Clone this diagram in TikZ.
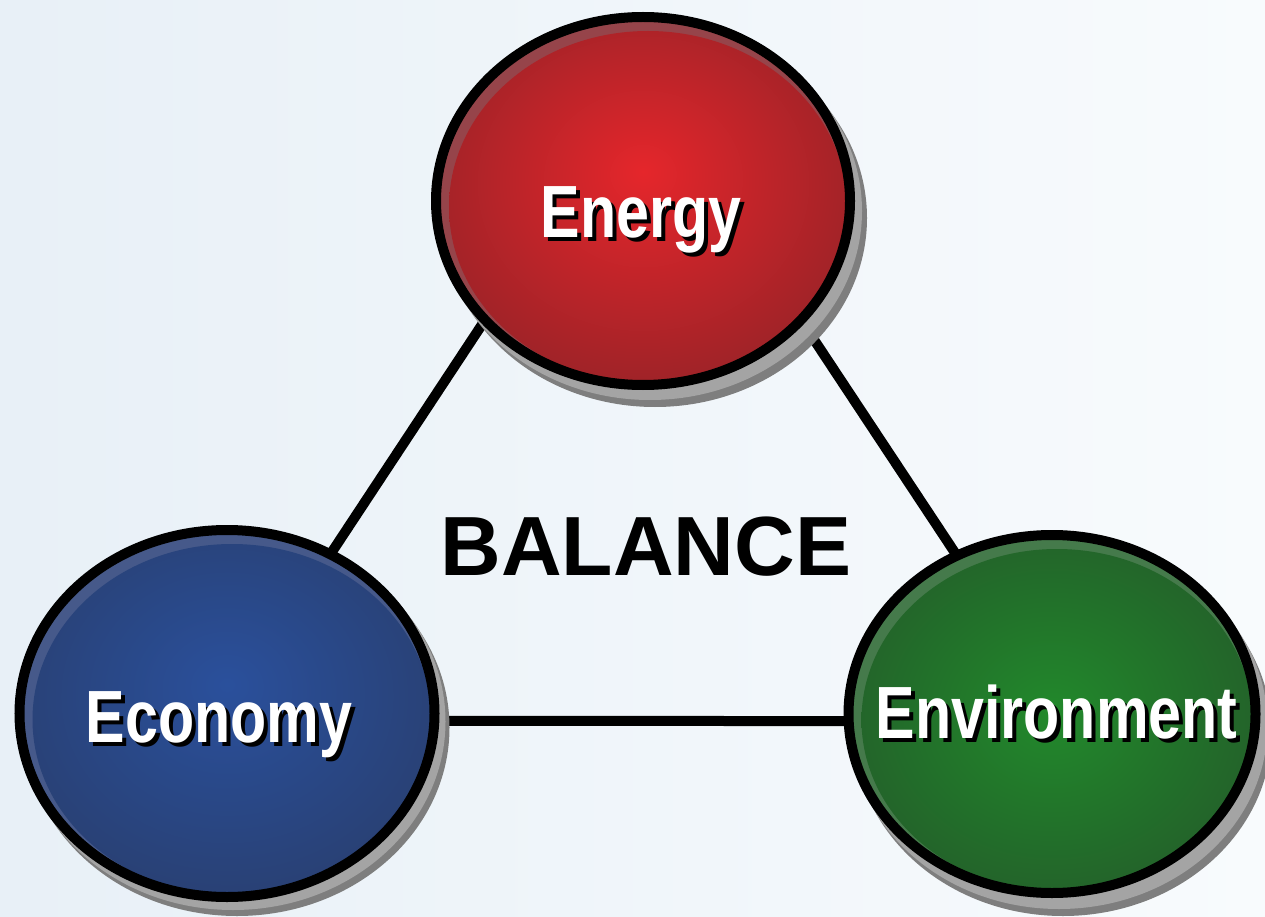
\documentclass[tikz,border=0pt]{standalone}
\usepackage{fontspec}
\setmainfont{Liberation Sans}
\newfontfamily\narrowfont[FakeStretch=0.8]{Liberation Sans}
\usetikzlibrary{shapes.geometric}

\definecolor{bgL}{HTML}{E8F0F7}
\definecolor{bgR}{HTML}{F8FBFD}
\definecolor{redC}{HTML}{E5262B}
\definecolor{redE}{HTML}{7C2126}
\definecolor{redRim}{HTML}{96444A}
\definecolor{blueC}{HTML}{2A509C}
\definecolor{blueE}{HTML}{283961}
\definecolor{blueRim}{HTML}{46598A}
\definecolor{greenC}{HTML}{22892B}
\definecolor{greenE}{HTML}{234D29}
\definecolor{greenRim}{HTML}{457A4B}
\definecolor{shDark}{HTML}{7E7E7E}
\definecolor{shLight}{HTML}{A4A4A4}

\pgfdeclareradialshading{redball}{\pgfpoint{0bp}{4bp}}{color(0bp)=(redC); color(40bp)=(redE); color(50bp)=(redE)}
\pgfdeclareradialshading{blueball}{\pgfpoint{0bp}{4bp}}{color(0bp)=(blueC); color(40bp)=(blueE); color(50bp)=(blueE)}
\pgfdeclareradialshading{greenball}{\pgfpoint{0bp}{0bp}}{color(0bp)=(greenC); color(40bp)=(greenE); color(50bp)=(greenE)}

\pgfdeclarelayer{bglayer}
\pgfdeclarelayer{linelayer}
\pgfdeclarelayer{shadowlayer}
\pgfsetlayers{bglayer,linelayer,shadowlayer,main}

\newcommand{\shtext}[1]{\makebox[0pt][l]{\kern4pt\raisebox{-4pt}{\color{black}#1}}#1}

\tikzset{
  ball/.style n args={4}{ellipse, inner sep=0pt, minimum width=#1, minimum height=#2,
    draw=none, fill=#3,
    path picture={\shade[shading=#4]
      ([shift={(5pt,-6pt)}]path picture bounding box.center)
      ellipse [x radius=0.5*#1-8pt, y radius=0.5*#2-8pt];},
    postaction={draw=black, line width=10pt}},
  conn/.style={draw=black, line width=10pt, shorten <=-14pt, shorten >=-14pt},
  lbl/.style={font=\narrowfont\bfseries\fontsize{74}{74}\selectfont, text=white, anchor=base, inner sep=0pt},
  title/.style={font=\bfseries\fontsize{84}{84}\selectfont, text=black, anchor=base, inner sep=0pt},
}

\begin{document}
\begin{tikzpicture}[x=1pt, y=-1pt]
\useasboundingbox (0,0) rectangle (1265,917);
\begin{pgfonlayer}{bglayer}
  \shade[left color=bgL, right color=bgR] (0,0) rectangle (1265,917);
\end{pgfonlayer}

% balls
\node[ball={414pt}{368pt}{redRim}{redball}] (energy) at (643,201) {};
\node[ball={415pt}{367pt}{blueRim}{blueball}] (economy) at (227,713.5) {};
\node[ball={407pt}{358pt}{greenRim}{greenball}] (environment) at (1052,714) {};

% shadows
\begin{pgfonlayer}{shadowlayer}
  \fill[shDark] ([shift={(12pt,-17pt)}]energy.center) ellipse [x radius=212pt, y radius=189pt];
  \fill[shLight] ([shift={(7pt,-10pt)}]energy.center) ellipse [x radius=212pt, y radius=189pt];
  \fill[shDark] ([shift={(10pt,-14pt)}]economy.center) ellipse [x radius=212.5pt, y radius=188.5pt];
  \fill[shLight] ([shift={(6pt,-8pt)}]economy.center) ellipse [x radius=212.5pt, y radius=188.5pt];
  \fill[shDark] ([shift={(11pt,-18pt)}]environment.center) ellipse [x radius=208.5pt, y radius=184pt];
  \fill[shLight] ([shift={(7pt,-11pt)}]environment.center) ellipse [x radius=208.5pt, y radius=184pt];
\end{pgfonlayer}

% connectors
\begin{pgfonlayer}{linelayer}
  \draw[conn] (energy.217) -- (economy.57);
  \draw[conn] (energy.323) -- (environment.121);
  \draw[conn] (economy.358) -- (environment.182);
\end{pgfonlayer}

% labels
\node[lbl] (energylbl) at (641,238) {\shtext{Energy}};
\node[lbl] (economylbl) at (219,742) {\shtext{Economy}};
\node[lbl] (environmentlbl) at (1056.5,738) {\shtext{Environment}};

\node[title] (balance) at (646,575) {BALANCE};
\end{tikzpicture}
\end{document}
